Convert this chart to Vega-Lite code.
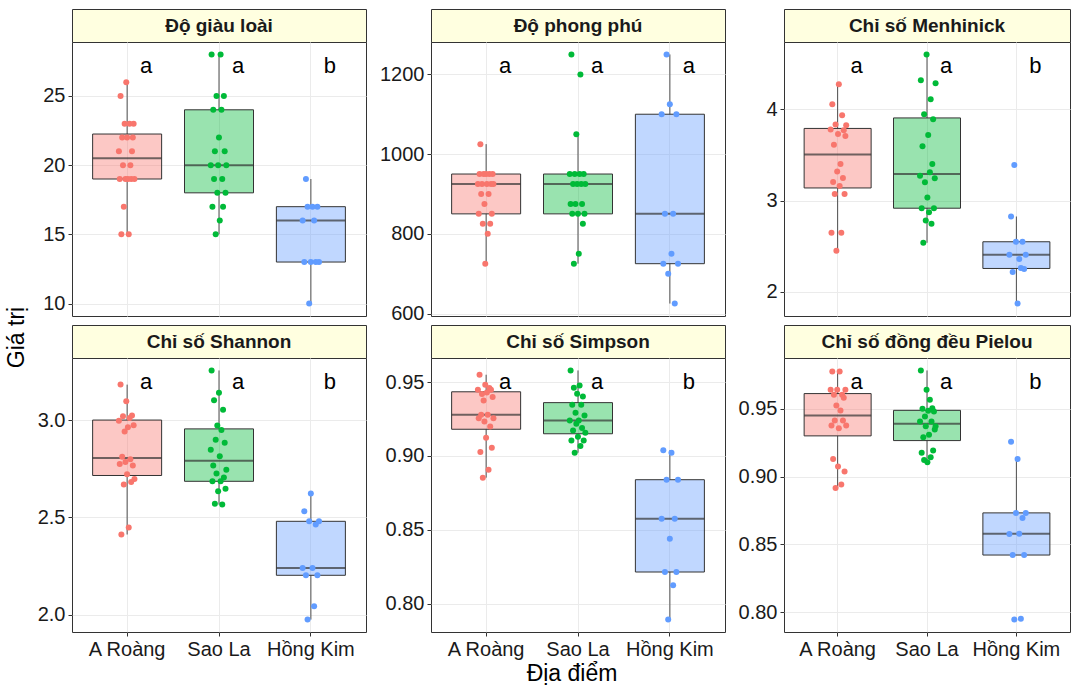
{
"$schema": "https://vega.github.io/schema/vega-lite/v6.json",
"background": "white",
"padding": {"left": 0, "top": 8, "right": 0, "bottom": 0},
"config": {
 "font": "Liberation Sans",
 "view": {"stroke": null},
 "axis": {"gridColor": "#EBEBEB", "gridWidth": 1, "domain": false, "tickColor": "#333333", "tickSize": 4, "labelFontSize": 20, "labelColor": "#1A1A1A", "labelPadding": 3, "labelFont": "Liberation Sans"}
},
"datasets": {
"d": [
{"index":"Độ giàu loài","site":"A Roàng","plot":1,"value":21,"letter":"a"},
{"index":"Độ giàu loài","site":"A Roàng","plot":2,"value":19,"letter":"a"},
{"index":"Độ giàu loài","site":"A Roàng","plot":3,"value":25,"letter":"a"},
{"index":"Độ giàu loài","site":"A Roàng","plot":4,"value":15,"letter":"a"},
{"index":"Độ giàu loài","site":"A Roàng","plot":5,"value":22,"letter":"a"},
{"index":"Độ giàu loài","site":"A Roàng","plot":6,"value":20,"letter":"a"},
{"index":"Độ giàu loài","site":"A Roàng","plot":7,"value":17,"letter":"a"},
{"index":"Độ giàu loài","site":"A Roàng","plot":8,"value":23,"letter":"a"},
{"index":"Độ giàu loài","site":"A Roàng","plot":9,"value":19,"letter":"a"},
{"index":"Độ giàu loài","site":"A Roàng","plot":10,"value":26,"letter":"a"},
{"index":"Độ giàu loài","site":"A Roàng","plot":11,"value":22,"letter":"a"},
{"index":"Độ giàu loài","site":"A Roàng","plot":12,"value":19,"letter":"a"},
{"index":"Độ giàu loài","site":"A Roàng","plot":13,"value":15,"letter":"a"},
{"index":"Độ giàu loài","site":"A Roàng","plot":14,"value":23,"letter":"a"},
{"index":"Độ giàu loài","site":"A Roàng","plot":15,"value":20,"letter":"a"},
{"index":"Độ giàu loài","site":"A Roàng","plot":16,"value":19,"letter":"a"},
{"index":"Độ giàu loài","site":"A Roàng","plot":17,"value":21,"letter":"a"},
{"index":"Độ giàu loài","site":"A Roàng","plot":18,"value":22,"letter":"a"},
{"index":"Độ giàu loài","site":"A Roàng","plot":19,"value":23,"letter":"a"},
{"index":"Độ giàu loài","site":"A Roàng","plot":20,"value":19,"letter":"a"},
{"index":"Độ giàu loài","site":"Sao La","plot":1,"value":20,"letter":"a"},
{"index":"Độ giàu loài","site":"Sao La","plot":2,"value":28,"letter":"a"},
{"index":"Độ giàu loài","site":"Sao La","plot":3,"value":17,"letter":"a"},
{"index":"Độ giàu loài","site":"Sao La","plot":4,"value":24,"letter":"a"},
{"index":"Độ giàu loài","site":"Sao La","plot":5,"value":19,"letter":"a"},
{"index":"Độ giàu loài","site":"Sao La","plot":6,"value":21,"letter":"a"},
{"index":"Độ giàu loài","site":"Sao La","plot":7,"value":15,"letter":"a"},
{"index":"Độ giàu loài","site":"Sao La","plot":8,"value":25,"letter":"a"},
{"index":"Độ giàu loài","site":"Sao La","plot":9,"value":18,"letter":"a"},
{"index":"Độ giàu loài","site":"Sao La","plot":10,"value":20,"letter":"a"},
{"index":"Độ giàu loài","site":"Sao La","plot":11,"value":22,"letter":"a"},
{"index":"Độ giàu loài","site":"Sao La","plot":12,"value":16,"letter":"a"},
{"index":"Độ giàu loài","site":"Sao La","plot":13,"value":28,"letter":"a"},
{"index":"Độ giàu loài","site":"Sao La","plot":14,"value":24,"letter":"a"},
{"index":"Độ giàu loài","site":"Sao La","plot":15,"value":19,"letter":"a"},
{"index":"Độ giàu loài","site":"Sao La","plot":16,"value":17,"letter":"a"},
{"index":"Độ giàu loài","site":"Sao La","plot":17,"value":25,"letter":"a"},
{"index":"Độ giàu loài","site":"Sao La","plot":18,"value":21,"letter":"a"},
{"index":"Độ giàu loài","site":"Sao La","plot":19,"value":18,"letter":"a"},
{"index":"Độ giàu loài","site":"Sao La","plot":20,"value":20,"letter":"a"},
{"index":"Độ giàu loài","site":"Hồng Kim","plot":1,"value":16,"letter":"b"},
{"index":"Độ giàu loài","site":"Hồng Kim","plot":3,"value":13,"letter":"b"},
{"index":"Độ giàu loài","site":"Hồng Kim","plot":5,"value":19,"letter":"b"},
{"index":"Độ giàu loài","site":"Hồng Kim","plot":7,"value":17,"letter":"b"},
{"index":"Độ giàu loài","site":"Hồng Kim","plot":9,"value":10,"letter":"b"},
{"index":"Độ giàu loài","site":"Hồng Kim","plot":11,"value":13,"letter":"b"},
{"index":"Độ giàu loài","site":"Hồng Kim","plot":13,"value":17,"letter":"b"},
{"index":"Độ giàu loài","site":"Hồng Kim","plot":15,"value":16,"letter":"b"},
{"index":"Độ giàu loài","site":"Hồng Kim","plot":17,"value":13,"letter":"b"},
{"index":"Độ giàu loài","site":"Hồng Kim","plot":19,"value":17,"letter":"b"},
{"index":"Độ giàu loài","site":"Hồng Kim","plot":21,"value":13,"letter":"b"},
{"index":"Độ phong phú","site":"A Roàng","plot":1,"value":925,"letter":"a"},
{"index":"Độ phong phú","site":"A Roàng","plot":2,"value":850,"letter":"a"},
{"index":"Độ phong phú","site":"A Roàng","plot":3,"value":950,"letter":"a"},
{"index":"Độ phong phú","site":"A Roàng","plot":4,"value":1025,"letter":"a"},
{"index":"Độ phong phú","site":"A Roàng","plot":5,"value":900,"letter":"a"},
{"index":"Độ phong phú","site":"A Roàng","plot":6,"value":925,"letter":"a"},
{"index":"Độ phong phú","site":"A Roàng","plot":7,"value":825,"letter":"a"},
{"index":"Độ phong phú","site":"A Roàng","plot":8,"value":950,"letter":"a"},
{"index":"Độ phong phú","site":"A Roàng","plot":9,"value":875,"letter":"a"},
{"index":"Độ phong phú","site":"A Roàng","plot":10,"value":725,"letter":"a"},
{"index":"Độ phong phú","site":"A Roàng","plot":11,"value":950,"letter":"a"},
{"index":"Độ phong phú","site":"A Roàng","plot":12,"value":925,"letter":"a"},
{"index":"Độ phong phú","site":"A Roàng","plot":13,"value":800,"letter":"a"},
{"index":"Độ phong phú","site":"A Roàng","plot":14,"value":900,"letter":"a"},
{"index":"Độ phong phú","site":"A Roàng","plot":15,"value":950,"letter":"a"},
{"index":"Độ phong phú","site":"A Roàng","plot":16,"value":825,"letter":"a"},
{"index":"Độ phong phú","site":"A Roàng","plot":17,"value":925,"letter":"a"},
{"index":"Độ phong phú","site":"A Roàng","plot":18,"value":850,"letter":"a"},
{"index":"Độ phong phú","site":"A Roàng","plot":19,"value":950,"letter":"a"},
{"index":"Độ phong phú","site":"A Roàng","plot":20,"value":925,"letter":"a"},
{"index":"Độ phong phú","site":"Sao La","plot":1,"value":950,"letter":"a"},
{"index":"Độ phong phú","site":"Sao La","plot":2,"value":875,"letter":"a"},
{"index":"Độ phong phú","site":"Sao La","plot":3,"value":1250,"letter":"a"},
{"index":"Độ phong phú","site":"Sao La","plot":4,"value":850,"letter":"a"},
{"index":"Độ phong phú","site":"Sao La","plot":5,"value":925,"letter":"a"},
{"index":"Độ phong phú","site":"Sao La","plot":6,"value":725,"letter":"a"},
{"index":"Độ phong phú","site":"Sao La","plot":7,"value":950,"letter":"a"},
{"index":"Độ phong phú","site":"Sao La","plot":8,"value":875,"letter":"a"},
{"index":"Độ phong phú","site":"Sao La","plot":9,"value":1050,"letter":"a"},
{"index":"Độ phong phú","site":"Sao La","plot":10,"value":925,"letter":"a"},
{"index":"Độ phong phú","site":"Sao La","plot":11,"value":850,"letter":"a"},
{"index":"Độ phong phú","site":"Sao La","plot":12,"value":750,"letter":"a"},
{"index":"Độ phong phú","site":"Sao La","plot":13,"value":950,"letter":"a"},
{"index":"Độ phong phú","site":"Sao La","plot":14,"value":1200,"letter":"a"},
{"index":"Độ phong phú","site":"Sao La","plot":15,"value":925,"letter":"a"},
{"index":"Độ phong phú","site":"Sao La","plot":16,"value":875,"letter":"a"},
{"index":"Độ phong phú","site":"Sao La","plot":17,"value":825,"letter":"a"},
{"index":"Độ phong phú","site":"Sao La","plot":18,"value":950,"letter":"a"},
{"index":"Độ phong phú","site":"Sao La","plot":19,"value":850,"letter":"a"},
{"index":"Độ phong phú","site":"Sao La","plot":20,"value":925,"letter":"a"},
{"index":"Độ phong phú","site":"Hồng Kim","plot":1,"value":1100,"letter":"a"},
{"index":"Độ phong phú","site":"Hồng Kim","plot":3,"value":725,"letter":"a"},
{"index":"Độ phong phú","site":"Hồng Kim","plot":5,"value":850,"letter":"a"},
{"index":"Độ phong phú","site":"Hồng Kim","plot":7,"value":1250,"letter":"a"},
{"index":"Độ phong phú","site":"Hồng Kim","plot":9,"value":700,"letter":"a"},
{"index":"Độ phong phú","site":"Hồng Kim","plot":11,"value":1125,"letter":"a"},
{"index":"Độ phong phú","site":"Hồng Kim","plot":13,"value":750,"letter":"a"},
{"index":"Độ phong phú","site":"Hồng Kim","plot":15,"value":850,"letter":"a"},
{"index":"Độ phong phú","site":"Hồng Kim","plot":17,"value":625,"letter":"a"},
{"index":"Độ phong phú","site":"Hồng Kim","plot":19,"value":1100,"letter":"a"},
{"index":"Độ phong phú","site":"Hồng Kim","plot":21,"value":725,"letter":"a"},
{"index":"Chỉ số Menhinick","site":"A Roàng","plot":1,"value":3.78,"letter":"a"},
{"index":"Chỉ số Menhinick","site":"A Roàng","plot":2,"value":2.647,"letter":"a"},
{"index":"Chỉ số Menhinick","site":"A Roàng","plot":3,"value":4.056,"letter":"a"},
{"index":"Chỉ số Menhinick","site":"A Roàng","plot":4,"value":3.204,"letter":"a"},
{"index":"Chỉ số Menhinick","site":"A Roàng","plot":5,"value":3.612,"letter":"a"},
{"index":"Chỉ số Menhinick","site":"A Roàng","plot":6,"value":3.073,"letter":"a"},
{"index":"Chỉ số Menhinick","site":"A Roàng","plot":7,"value":3.835,"letter":"a"},
{"index":"Chỉ số Menhinick","site":"A Roàng","plot":8,"value":2.45,"letter":"a"},
{"index":"Chỉ số Menhinick","site":"A Roàng","plot":9,"value":3.32,"letter":"a"},
{"index":"Chỉ số Menhinick","site":"A Roàng","plot":10,"value":3.729,"letter":"a"},
{"index":"Chỉ số Menhinick","site":"A Roàng","plot":11,"value":4.275,"letter":"a"},
{"index":"Chỉ số Menhinick","site":"A Roàng","plot":12,"value":3.16,"letter":"a"},
{"index":"Chỉ số Menhinick","site":"A Roàng","plot":13,"value":3.401,"letter":"a"},
{"index":"Chỉ số Menhinick","site":"A Roàng","plot":14,"value":2.647,"letter":"a"},
{"index":"Chỉ số Menhinick","site":"A Roàng","plot":15,"value":3.936,"letter":"a"},
{"index":"Chỉ số Menhinick","site":"A Roàng","plot":16,"value":3.248,"letter":"a"},
{"index":"Chỉ số Menhinick","site":"A Roàng","plot":17,"value":3.772,"letter":"a"},
{"index":"Chỉ số Menhinick","site":"A Roàng","plot":18,"value":3.073,"letter":"a"},
{"index":"Chỉ số Menhinick","site":"A Roàng","plot":19,"value":3.707,"letter":"a"},
{"index":"Chỉ số Menhinick","site":"A Roàng","plot":20,"value":3.825,"letter":"a"},
{"index":"Chỉ số Menhinick","site":"Sao La","plot":1,"value":3.273,"letter":"a"},
{"index":"Chỉ số Menhinick","site":"Sao La","plot":2,"value":4.319,"letter":"a"},
{"index":"Chỉ số Menhinick","site":"Sao La","plot":3,"value":2.916,"letter":"a"},
{"index":"Chỉ số Menhinick","site":"Sao La","plot":4,"value":3.597,"letter":"a"},
{"index":"Chỉ số Menhinick","site":"Sao La","plot":5,"value":2.537,"letter":"a"},
{"index":"Chỉ số Menhinick","site":"Sao La","plot":6,"value":3.947,"letter":"a"},
{"index":"Chỉ số Menhinick","site":"Sao La","plot":7,"value":3.2,"letter":"a"},
{"index":"Chỉ số Menhinick","site":"Sao La","plot":8,"value":2.78,"letter":"a"},
{"index":"Chỉ số Menhinick","site":"Sao La","plot":9,"value":4.603,"letter":"a"},
{"index":"Chỉ số Menhinick","site":"Sao La","plot":10,"value":3.033,"letter":"a"},
{"index":"Chỉ số Menhinick","site":"Sao La","plot":11,"value":3.718,"letter":"a"},
{"index":"Chỉ số Menhinick","site":"Sao La","plot":12,"value":2.872,"letter":"a"},
{"index":"Chỉ số Menhinick","site":"Sao La","plot":13,"value":3.31,"letter":"a"},
{"index":"Chỉ số Menhinick","site":"Sao La","plot":14,"value":4.111,"letter":"a"},
{"index":"Chỉ số Menhinick","site":"Sao La","plot":15,"value":2.745,"letter":"a"},
{"index":"Chỉ số Menhinick","site":"Sao La","plot":16,"value":3.401,"letter":"a"},
{"index":"Chỉ số Menhinick","site":"Sao La","plot":17,"value":3.893,"letter":"a"},
{"index":"Chỉ số Menhinick","site":"Sao La","plot":18,"value":2.916,"letter":"a"},
{"index":"Chỉ số Menhinick","site":"Sao La","plot":19,"value":3.244,"letter":"a"},
{"index":"Chỉ số Menhinick","site":"Sao La","plot":20,"value":4.286,"letter":"a"},
{"index":"Chỉ số Menhinick","site":"Hồng Kim","plot":1,"value":2.406,"letter":"b"},
{"index":"Chỉ số Menhinick","site":"Hồng Kim","plot":3,"value":2.825,"letter":"b"},
{"index":"Chỉ số Menhinick","site":"Hồng Kim","plot":5,"value":2.217,"letter":"b"},
{"index":"Chỉ số Menhinick","site":"Hồng Kim","plot":7,"value":3.39,"letter":"b"},
{"index":"Chỉ số Menhinick","site":"Hồng Kim","plot":9,"value":2.548,"letter":"b"},
{"index":"Chỉ số Menhinick","site":"Hồng Kim","plot":11,"value":1.87,"letter":"b"},
{"index":"Chỉ số Menhinick","site":"Hồng Kim","plot":13,"value":2.36,"letter":"b"},
{"index":"Chỉ số Menhinick","site":"Hồng Kim","plot":15,"value":2.26,"letter":"b"},
{"index":"Chỉ số Menhinick","site":"Hồng Kim","plot":17,"value":2.548,"letter":"b"},
{"index":"Chỉ số Menhinick","site":"Hồng Kim","plot":19,"value":2.25,"letter":"b"},
{"index":"Chỉ số Menhinick","site":"Hồng Kim","plot":21,"value":2.406,"letter":"b"},
{"index":"Chỉ số Shannon","site":"A Roàng","plot":1,"value":2.998,"letter":"a"},
{"index":"Chỉ số Shannon","site":"A Roàng","plot":2,"value":2.775,"letter":"a"},
{"index":"Chỉ số Shannon","site":"A Roàng","plot":3,"value":3.184,"letter":"a"},
{"index":"Chỉ số Shannon","site":"A Roàng","plot":4,"value":2.412,"letter":"a"},
{"index":"Chỉ số Shannon","site":"A Roàng","plot":5,"value":2.812,"letter":"a"},
{"index":"Chỉ số Shannon","site":"A Roàng","plot":6,"value":3.021,"letter":"a"},
{"index":"Chỉ số Shannon","site":"A Roàng","plot":7,"value":2.669,"letter":"a"},
{"index":"Chỉ số Shannon","site":"A Roàng","plot":8,"value":2.943,"letter":"a"},
{"index":"Chỉ số Shannon","site":"A Roàng","plot":9,"value":2.786,"letter":"a"},
{"index":"Chỉ số Shannon","site":"A Roàng","plot":10,"value":3.098,"letter":"a"},
{"index":"Chỉ số Shannon","site":"A Roàng","plot":11,"value":2.722,"letter":"a"},
{"index":"Chỉ số Shannon","site":"A Roàng","plot":12,"value":2.965,"letter":"a"},
{"index":"Chỉ số Shannon","site":"A Roàng","plot":13,"value":2.448,"letter":"a"},
{"index":"Chỉ số Shannon","site":"A Roàng","plot":14,"value":3.012,"letter":"a"},
{"index":"Chỉ số Shannon","site":"A Roàng","plot":15,"value":2.8,"letter":"a"},
{"index":"Chỉ số Shannon","site":"A Roàng","plot":16,"value":2.682,"letter":"a"},
{"index":"Chỉ số Shannon","site":"A Roàng","plot":17,"value":3.025,"letter":"a"},
{"index":"Chỉ số Shannon","site":"A Roàng","plot":18,"value":2.768,"letter":"a"},
{"index":"Chỉ số Shannon","site":"A Roàng","plot":19,"value":2.975,"letter":"a"},
{"index":"Chỉ số Shannon","site":"A Roàng","plot":20,"value":2.698,"letter":"a"},
{"index":"Chỉ số Shannon","site":"Sao La","plot":1,"value":2.849,"letter":"a"},
{"index":"Chỉ số Shannon","site":"Sao La","plot":2,"value":3.257,"letter":"a"},
{"index":"Chỉ số Shannon","site":"Sao La","plot":3,"value":2.686,"letter":"a"},
{"index":"Chỉ số Shannon","site":"Sao La","plot":4,"value":2.768,"letter":"a"},
{"index":"Chỉ số Shannon","site":"Sao La","plot":5,"value":3.103,"letter":"a"},
{"index":"Chỉ số Shannon","site":"Sao La","plot":6,"value":2.571,"letter":"a"},
{"index":"Chỉ số Shannon","site":"Sao La","plot":7,"value":2.9,"letter":"a"},
{"index":"Chỉ số Shannon","site":"Sao La","plot":8,"value":2.726,"letter":"a"},
{"index":"Chỉ số Shannon","site":"Sao La","plot":9,"value":2.974,"letter":"a"},
{"index":"Chỉ số Shannon","site":"Sao La","plot":10,"value":2.635,"letter":"a"},
{"index":"Chỉ số Shannon","site":"Sao La","plot":11,"value":3.142,"letter":"a"},
{"index":"Chỉ số Shannon","site":"Sao La","plot":12,"value":2.815,"letter":"a"},
{"index":"Chỉ số Shannon","site":"Sao La","plot":13,"value":2.686,"letter":"a"},
{"index":"Chỉ số Shannon","site":"Sao La","plot":14,"value":2.95,"letter":"a"},
{"index":"Chỉ số Shannon","site":"Sao La","plot":15,"value":2.566,"letter":"a"},
{"index":"Chỉ số Shannon","site":"Sao La","plot":16,"value":3.055,"letter":"a"},
{"index":"Chỉ số Shannon","site":"Sao La","plot":17,"value":2.705,"letter":"a"},
{"index":"Chỉ số Shannon","site":"Sao La","plot":18,"value":2.885,"letter":"a"},
{"index":"Chỉ số Shannon","site":"Sao La","plot":19,"value":2.648,"letter":"a"},
{"index":"Chỉ số Shannon","site":"Sao La","plot":20,"value":2.746,"letter":"a"},
{"index":"Chỉ số Shannon","site":"Hồng Kim","plot":1,"value":2.24,"letter":"b"},
{"index":"Chỉ số Shannon","site":"Hồng Kim","plot":3,"value":2.532,"letter":"b"},
{"index":"Chỉ số Shannon","site":"Hồng Kim","plot":5,"value":2.202,"letter":"b"},
{"index":"Chỉ số Shannon","site":"Hồng Kim","plot":7,"value":1.974,"letter":"b"},
{"index":"Chỉ số Shannon","site":"Hồng Kim","plot":9,"value":2.48,"letter":"b"},
{"index":"Chỉ số Shannon","site":"Hồng Kim","plot":11,"value":2.623,"letter":"b"},
{"index":"Chỉ số Shannon","site":"Hồng Kim","plot":13,"value":2.24,"letter":"b"},
{"index":"Chỉ số Shannon","site":"Hồng Kim","plot":15,"value":2.043,"letter":"b"},
{"index":"Chỉ số Shannon","site":"Hồng Kim","plot":17,"value":2.463,"letter":"b"},
{"index":"Chỉ số Shannon","site":"Hồng Kim","plot":19,"value":2.202,"letter":"b"},
{"index":"Chỉ số Shannon","site":"Hồng Kim","plot":21,"value":2.48,"letter":"b"},
{"index":"Chỉ số Simpson","site":"A Roàng","plot":1,"value":0.9448,"letter":"a"},
{"index":"Chỉ số Simpson","site":"A Roàng","plot":2,"value":0.9256,"letter":"a"},
{"index":"Chỉ số Simpson","site":"A Roàng","plot":3,"value":0.955,"letter":"a"},
{"index":"Chỉ số Simpson","site":"A Roàng","plot":4,"value":0.9026,"letter":"a"},
{"index":"Chỉ số Simpson","site":"A Roàng","plot":5,"value":0.9279,"letter":"a"},
{"index":"Chỉ số Simpson","site":"A Roàng","plot":6,"value":0.942,"letter":"a"},
{"index":"Chỉ số Simpson","site":"A Roàng","plot":7,"value":0.8853,"letter":"a"},
{"index":"Chỉ số Simpson","site":"A Roàng","plot":8,"value":0.9376,"letter":"a"},
{"index":"Chỉ số Simpson","site":"A Roàng","plot":9,"value":0.9234,"letter":"a"},
{"index":"Chỉ số Simpson","site":"A Roàng","plot":10,"value":0.9482,"letter":"a"},
{"index":"Chỉ số Simpson","site":"A Roàng","plot":11,"value":0.9123,"letter":"a"},
{"index":"Chỉ số Simpson","site":"A Roàng","plot":12,"value":0.943,"letter":"a"},
{"index":"Chỉ số Simpson","site":"A Roàng","plot":13,"value":0.9279,"letter":"a"},
{"index":"Chỉ số Simpson","site":"A Roàng","plot":14,"value":0.8907,"letter":"a"},
{"index":"Chỉ số Simpson","site":"A Roàng","plot":15,"value":0.946,"letter":"a"},
{"index":"Chỉ số Simpson","site":"A Roàng","plot":16,"value":0.92,"letter":"a"},
{"index":"Chỉ số Simpson","site":"A Roàng","plot":17,"value":0.9448,"letter":"a"},
{"index":"Chỉ số Simpson","site":"A Roàng","plot":18,"value":0.9056,"letter":"a"},
{"index":"Chỉ số Simpson","site":"A Roàng","plot":19,"value":0.94,"letter":"a"},
{"index":"Chỉ số Simpson","site":"A Roàng","plot":20,"value":0.9256,"letter":"a"},
{"index":"Chỉ số Simpson","site":"Sao La","plot":1,"value":0.924,"letter":"a"},
{"index":"Chỉ số Simpson","site":"Sao La","plot":2,"value":0.9579,"letter":"a"},
{"index":"Chỉ số Simpson","site":"Sao La","plot":3,"value":0.9105,"letter":"a"},
{"index":"Chỉ số Simpson","site":"Sao La","plot":4,"value":0.9347,"letter":"a"},
{"index":"Chỉ số Simpson","site":"Sao La","plot":5,"value":0.9173,"letter":"a"},
{"index":"Chỉ số Simpson","site":"Sao La","plot":6,"value":0.9462,"letter":"a"},
{"index":"Chỉ số Simpson","site":"Sao La","plot":7,"value":0.9022,"letter":"a"},
{"index":"Chỉ số Simpson","site":"Sao La","plot":8,"value":0.9293,"letter":"a"},
{"index":"Chỉ số Simpson","site":"Sao La","plot":9,"value":0.9218,"letter":"a"},
{"index":"Chỉ số Simpson","site":"Sao La","plot":10,"value":0.9421,"letter":"a"},
{"index":"Chỉ số Simpson","site":"Sao La","plot":11,"value":0.913,"letter":"a"},
{"index":"Chỉ số Simpson","site":"Sao La","plot":12,"value":0.924,"letter":"a"},
{"index":"Chỉ số Simpson","site":"Sao La","plot":13,"value":0.9477,"letter":"a"},
{"index":"Chỉ số Simpson","site":"Sao La","plot":14,"value":0.9067,"letter":"a"},
{"index":"Chỉ số Simpson","site":"Sao La","plot":15,"value":0.9347,"letter":"a"},
{"index":"Chỉ số Simpson","site":"Sao La","plot":16,"value":0.9189,"letter":"a"},
{"index":"Chỉ số Simpson","site":"Sao La","plot":17,"value":0.9403,"letter":"a"},
{"index":"Chỉ số Simpson","site":"Sao La","plot":18,"value":0.9105,"letter":"a"},
{"index":"Chỉ số Simpson","site":"Sao La","plot":19,"value":0.9274,"letter":"a"},
{"index":"Chỉ số Simpson","site":"Sao La","plot":20,"value":0.9157,"letter":"a"},
{"index":"Chỉ số Simpson","site":"Hồng Kim","plot":1,"value":0.8575,"letter":"b"},
{"index":"Chỉ số Simpson","site":"Hồng Kim","plot":3,"value":0.9038,"letter":"b"},
{"index":"Chỉ số Simpson","site":"Hồng Kim","plot":5,"value":0.8214,"letter":"b"},
{"index":"Chỉ số Simpson","site":"Hồng Kim","plot":7,"value":0.8839,"letter":"b"},
{"index":"Chỉ số Simpson","site":"Hồng Kim","plot":9,"value":0.7892,"letter":"b"},
{"index":"Chỉ số Simpson","site":"Hồng Kim","plot":11,"value":0.844,"letter":"b"},
{"index":"Chỉ số Simpson","site":"Hồng Kim","plot":13,"value":0.9022,"letter":"b"},
{"index":"Chỉ số Simpson","site":"Hồng Kim","plot":15,"value":0.8124,"letter":"b"},
{"index":"Chỉ số Simpson","site":"Hồng Kim","plot":17,"value":0.8575,"letter":"b"},
{"index":"Chỉ số Simpson","site":"Hồng Kim","plot":19,"value":0.8214,"letter":"b"},
{"index":"Chỉ số Simpson","site":"Hồng Kim","plot":21,"value":0.8839,"letter":"b"},
{"index":"Chỉ số đồng đều Pielou","site":"A Roàng","plot":1,"value":0.964,"letter":"a"},
{"index":"Chỉ số đồng đều Pielou","site":"A Roàng","plot":2,"value":0.9377,"letter":"a"},
{"index":"Chỉ số đồng đều Pielou","site":"A Roàng","plot":3,"value":0.9776,"letter":"a"},
{"index":"Chỉ số đồng đều Pielou","site":"A Roàng","plot":4,"value":0.913,"letter":"a"},
{"index":"Chỉ số đồng đều Pielou","site":"A Roàng","plot":5,"value":0.9603,"letter":"a"},
{"index":"Chỉ số đồng đều Pielou","site":"A Roàng","plot":6,"value":0.9414,"letter":"a"},
{"index":"Chỉ số đồng đều Pielou","site":"A Roàng","plot":7,"value":0.8916,"letter":"a"},
{"index":"Chỉ số đồng đều Pielou","site":"A Roàng","plot":8,"value":0.9525,"letter":"a"},
{"index":"Chỉ số đồng đều Pielou","site":"A Roàng","plot":9,"value":0.964,"letter":"a"},
{"index":"Chỉ số đồng đều Pielou","site":"A Roàng","plot":10,"value":0.9074,"letter":"a"},
{"index":"Chỉ số đồng đều Pielou","site":"A Roàng","plot":11,"value":0.9357,"letter":"a"},
{"index":"Chỉ số đồng đều Pielou","site":"A Roàng","plot":12,"value":0.9776,"letter":"a"},
{"index":"Chỉ số đồng đều Pielou","site":"A Roàng","plot":13,"value":0.9488,"letter":"a"},
{"index":"Chỉ số đồng đều Pielou","site":"A Roàng","plot":14,"value":0.8941,"letter":"a"},
{"index":"Chỉ số đồng đều Pielou","site":"A Roàng","plot":15,"value":0.9603,"letter":"a"},
{"index":"Chỉ số đồng đều Pielou","site":"A Roàng","plot":16,"value":0.9414,"letter":"a"},
{"index":"Chỉ số đồng đều Pielou","site":"A Roàng","plot":17,"value":0.9581,"letter":"a"},
{"index":"Chỉ số đồng đều Pielou","site":"A Roàng","plot":18,"value":0.9037,"letter":"a"},
{"index":"Chỉ số đồng đều Pielou","site":"A Roàng","plot":19,"value":0.964,"letter":"a"},
{"index":"Chỉ số đồng đều Pielou","site":"A Roàng","plot":20,"value":0.9377,"letter":"a"},
{"index":"Chỉ số đồng đều Pielou","site":"Sao La","plot":1,"value":0.9406,"letter":"a"},
{"index":"Chỉ số đồng đều Pielou","site":"Sao La","plot":2,"value":0.9783,"letter":"a"},
{"index":"Chỉ số đồng đều Pielou","site":"Sao La","plot":3,"value":0.9175,"letter":"a"},
{"index":"Chỉ số đồng đều Pielou","site":"Sao La","plot":4,"value":0.95,"letter":"a"},
{"index":"Chỉ số đồng đều Pielou","site":"Sao La","plot":5,"value":0.929,"letter":"a"},
{"index":"Chỉ số đồng đều Pielou","site":"Sao La","plot":6,"value":0.9123,"letter":"a"},
{"index":"Chỉ số đồng đều Pielou","site":"Sao La","plot":7,"value":0.9443,"letter":"a"},
{"index":"Chỉ số đồng đều Pielou","site":"Sao La","plot":8,"value":0.9372,"letter":"a"},
{"index":"Chỉ số đồng đều Pielou","site":"Sao La","plot":9,"value":0.964,"letter":"a"},
{"index":"Chỉ số đồng đều Pielou","site":"Sao La","plot":10,"value":0.9106,"letter":"a"},
{"index":"Chỉ số đồng đều Pielou","site":"Sao La","plot":11,"value":0.9485,"letter":"a"},
{"index":"Chỉ số đồng đều Pielou","site":"Sao La","plot":12,"value":0.9308,"letter":"a"},
{"index":"Chỉ số đồng đều Pielou","site":"Sao La","plot":13,"value":0.9567,"letter":"a"},
{"index":"Chỉ số đồng đều Pielou","site":"Sao La","plot":14,"value":0.9143,"letter":"a"},
{"index":"Chỉ số đồng đều Pielou","site":"Sao La","plot":15,"value":0.9406,"letter":"a"},
{"index":"Chỉ số đồng đều Pielou","site":"Sao La","plot":16,"value":0.9505,"letter":"a"},
{"index":"Chỉ số đồng đều Pielou","site":"Sao La","plot":17,"value":0.9192,"letter":"a"},
{"index":"Chỉ số đồng đều Pielou","site":"Sao La","plot":18,"value":0.948,"letter":"a"},
{"index":"Chỉ số đồng đều Pielou","site":"Sao La","plot":19,"value":0.9347,"letter":"a"},
{"index":"Chỉ số đồng đều Pielou","site":"Sao La","plot":20,"value":0.9372,"letter":"a"},
{"index":"Chỉ số đồng đều Pielou","site":"Hồng Kim","plot":1,"value":0.8576,"letter":"b"},
{"index":"Chỉ số đồng đều Pielou","site":"Hồng Kim","plot":3,"value":0.9256,"letter":"b"},
{"index":"Chỉ số đồng đều Pielou","site":"Hồng Kim","plot":5,"value":0.8421,"letter":"b"},
{"index":"Chỉ số đồng đều Pielou","site":"Hồng Kim","plot":7,"value":0.7945,"letter":"b"},
{"index":"Chỉ số đồng đều Pielou","site":"Hồng Kim","plot":9,"value":0.8732,"letter":"b"},
{"index":"Chỉ số đồng đều Pielou","site":"Hồng Kim","plot":11,"value":0.913,"letter":"b"},
{"index":"Chỉ số đồng đều Pielou","site":"Hồng Kim","plot":13,"value":0.8579,"letter":"b"},
{"index":"Chỉ số đồng đều Pielou","site":"Hồng Kim","plot":15,"value":0.795,"letter":"b"},
{"index":"Chỉ số đồng đều Pielou","site":"Hồng Kim","plot":17,"value":0.8695,"letter":"b"},
{"index":"Chỉ số đồng đều Pielou","site":"Hồng Kim","plot":19,"value":0.8421,"letter":"b"},
{"index":"Chỉ số đồng đều Pielou","site":"Hồng Kim","plot":21,"value":0.8732,"letter":"b"}
]
},
"hconcat": [
 {
  "width": 34, "height": 657,
  "data": {"values": [{"label": "Giá trị"}]},
  "mark": {"type": "text", "angle": 270, "fontSize": 23, "color": "#000000", "font": "Liberation Sans"},
  "encoding": {"text": {"field": "label"}}
 },
 {
  "spacing": 0,
  "vconcat": [
   {
    "columns": 3,
    "spacing": {"row": -2, "column": 7},
    "align": "each",
    "concat": [
     {"spacing": 0, "bounds": "flush", "vconcat": [
      {"data": {"name": "d"}, "transform": [{"filter": {"field": "index", "equal": "Độ giàu loài"}}, {"aggregate": [{"op": "count", "as": "n"}], "groupby": ["index"]}],
       "width": 294, "height": 33, "view": {"fill": "#FFFFE0", "stroke": "#333333", "strokeWidth": 1},
       "mark": {"type": "text", "fontWeight": "bold", "fontSize": 19, "color": "#1A1A1A", "font": "Liberation Sans"},
       "encoding": {"text": {"field": "index"}}},
      {"data": {"name": "d"}, "transform": [{"filter": {"field": "index", "equal": "Độ giàu loài"}}],
       "width": 294, "height": 274, "view": {"fill": "white", "stroke": "#333333", "strokeWidth": 1},
       "encoding": {"x": {"field": "site", "type": "nominal", "sort": ["A Roàng", "Sao La", "Hồng Kim"], "title": null, "scale": {"paddingInner": 0, "paddingOuter": 0.1}, "axis": {"labels": false, "ticks": false, "grid": true, "bandPosition": 0.5, "minExtent": 0, "maxExtent": 0}}},
       "layer": [
        {"mark": {"type": "boxplot", "extent": 1.5, "size": 69, "outliers": false, "box": {"stroke": "#333333", "strokeWidth": 1, "fillOpacity": 0.4}, "median": {"color": "#333333", "thickness": 2}, "rule": {"color": "#4D4D4D", "strokeWidth": 1}},
         "encoding": {"y": {"field": "value", "type": "quantitative", "title": null, "scale": {"zero": false, "nice": false, "padding": 12.45}, "axis": {"tickCount": 4, "grid": true, "minExtent": 37, "maxExtent": 37}},
          "color": {"field": "site", "type": "nominal", "scale": {"domain": ["A Roàng", "Sao La", "Hồng Kim"], "range": ["#F8766D", "#00BA38", "#619CFF"]}, "legend": null}}},
        {"mark": {"type": "circle", "size": 36, "opacity": 1},
         "encoding": {"xOffset": {"field": "plot", "type": "quantitative", "scale": {"domain": [0, 22], "range": [36.9, 54.9]}},
          "y": {"field": "value", "type": "quantitative", "title": null},
          "color": {"field": "site", "type": "nominal", "legend": null}}},
        {"transform": [{"joinaggregate": [{"op": "max", "field": "value", "as": "top"}]}, {"aggregate": [{"op": "count", "as": "n"}], "groupby": ["site", "letter", "top"]}],
         "mark": {"type": "text", "fontSize": 22, "dx": 19, "dy": 12, "baseline": "middle", "color": "#000000", "font": "Liberation Sans"},
         "encoding": {"y": {"field": "top", "type": "quantitative", "title": null}, "text": {"field": "letter"}}}
       ]}
     ]},
     {"spacing": 0, "bounds": "flush", "vconcat": [
      {"data": {"name": "d"}, "transform": [{"filter": {"field": "index", "equal": "Độ phong phú"}}, {"aggregate": [{"op": "count", "as": "n"}], "groupby": ["index"]}],
       "width": 294, "height": 33, "view": {"fill": "#FFFFE0", "stroke": "#333333", "strokeWidth": 1},
       "mark": {"type": "text", "fontWeight": "bold", "fontSize": 19, "color": "#1A1A1A", "font": "Liberation Sans"},
       "encoding": {"text": {"field": "index"}}},
      {"data": {"name": "d"}, "transform": [{"filter": {"field": "index", "equal": "Độ phong phú"}}],
       "width": 294, "height": 274, "view": {"fill": "white", "stroke": "#333333", "strokeWidth": 1},
       "encoding": {"x": {"field": "site", "type": "nominal", "sort": ["A Roàng", "Sao La", "Hồng Kim"], "title": null, "scale": {"paddingInner": 0, "paddingOuter": 0.1}, "axis": {"labels": false, "ticks": false, "grid": true, "bandPosition": 0.5, "minExtent": 0, "maxExtent": 0}}},
       "layer": [
        {"mark": {"type": "boxplot", "extent": 1.5, "size": 69, "outliers": false, "box": {"stroke": "#333333", "strokeWidth": 1, "fillOpacity": 0.4}, "median": {"color": "#333333", "thickness": 2}, "rule": {"color": "#4D4D4D", "strokeWidth": 1}},
         "encoding": {"y": {"field": "value", "type": "quantitative", "title": null, "scale": {"zero": false, "nice": false, "padding": 12.45}, "axis": {"tickCount": 4, "format": "d", "grid": true, "minExtent": 56, "maxExtent": 56}},
          "color": {"field": "site", "type": "nominal", "scale": {"domain": ["A Roàng", "Sao La", "Hồng Kim"], "range": ["#F8766D", "#00BA38", "#619CFF"]}, "legend": null}}},
        {"mark": {"type": "circle", "size": 36, "opacity": 1},
         "encoding": {"xOffset": {"field": "plot", "type": "quantitative", "scale": {"domain": [0, 22], "range": [36.9, 54.9]}},
          "y": {"field": "value", "type": "quantitative", "title": null},
          "color": {"field": "site", "type": "nominal", "legend": null}}},
        {"transform": [{"joinaggregate": [{"op": "max", "field": "value", "as": "top"}]}, {"aggregate": [{"op": "count", "as": "n"}], "groupby": ["site", "letter", "top"]}],
         "mark": {"type": "text", "fontSize": 22, "dx": 19, "dy": 12, "baseline": "middle", "color": "#000000", "font": "Liberation Sans"},
         "encoding": {"y": {"field": "top", "type": "quantitative", "title": null}, "text": {"field": "letter"}}}
       ]}
     ]},
     {"spacing": 0, "bounds": "flush", "vconcat": [
      {"data": {"name": "d"}, "transform": [{"filter": {"field": "index", "equal": "Chỉ số Menhinick"}}, {"aggregate": [{"op": "count", "as": "n"}], "groupby": ["index"]}],
       "width": 286, "height": 33, "view": {"fill": "#FFFFE0", "stroke": "#333333", "strokeWidth": 1},
       "mark": {"type": "text", "fontWeight": "bold", "fontSize": 19, "color": "#1A1A1A", "font": "Liberation Sans"},
       "encoding": {"text": {"field": "index"}}},
      {"data": {"name": "d"}, "transform": [{"filter": {"field": "index", "equal": "Chỉ số Menhinick"}}],
       "width": 286, "height": 274, "view": {"fill": "white", "stroke": "#333333", "strokeWidth": 1},
       "encoding": {"x": {"field": "site", "type": "nominal", "sort": ["A Roàng", "Sao La", "Hồng Kim"], "title": null, "scale": {"paddingInner": 0, "paddingOuter": 0.1}, "axis": {"labels": false, "ticks": false, "grid": true, "bandPosition": 0.5, "minExtent": 0, "maxExtent": 0}}},
       "layer": [
        {"mark": {"type": "boxplot", "extent": 1.5, "size": 67, "outliers": false, "box": {"stroke": "#333333", "strokeWidth": 1, "fillOpacity": 0.4}, "median": {"color": "#333333", "thickness": 2}, "rule": {"color": "#4D4D4D", "strokeWidth": 1}},
         "encoding": {"y": {"field": "value", "type": "quantitative", "title": null, "scale": {"zero": false, "nice": false, "padding": 12.45}, "axis": {"tickCount": 4, "grid": true, "minExtent": 50, "maxExtent": 50}},
          "color": {"field": "site", "type": "nominal", "scale": {"domain": ["A Roàng", "Sao La", "Hồng Kim"], "range": ["#F8766D", "#00BA38", "#619CFF"]}, "legend": null}}},
        {"mark": {"type": "circle", "size": 36, "opacity": 1},
         "encoding": {"xOffset": {"field": "plot", "type": "quantitative", "scale": {"domain": [0, 22], "range": [35.7, 53.7]}},
          "y": {"field": "value", "type": "quantitative", "title": null},
          "color": {"field": "site", "type": "nominal", "legend": null}}},
        {"transform": [{"joinaggregate": [{"op": "max", "field": "value", "as": "top"}]}, {"aggregate": [{"op": "count", "as": "n"}], "groupby": ["site", "letter", "top"]}],
         "mark": {"type": "text", "fontSize": 22, "dx": 19, "dy": 12, "baseline": "middle", "color": "#000000", "font": "Liberation Sans"},
         "encoding": {"y": {"field": "top", "type": "quantitative", "title": null}, "text": {"field": "letter"}}}
       ]}
     ]},
     {"spacing": 0, "bounds": "flush", "vconcat": [
      {"data": {"name": "d"}, "transform": [{"filter": {"field": "index", "equal": "Chỉ số Shannon"}}, {"aggregate": [{"op": "count", "as": "n"}], "groupby": ["index"]}],
       "width": 294, "height": 33, "view": {"fill": "#FFFFE0", "stroke": "#333333", "strokeWidth": 1},
       "mark": {"type": "text", "fontWeight": "bold", "fontSize": 19, "color": "#1A1A1A", "font": "Liberation Sans"},
       "encoding": {"text": {"field": "index"}}},
      {"data": {"name": "d"}, "transform": [{"filter": {"field": "index", "equal": "Chỉ số Shannon"}}],
       "width": 294, "height": 274, "view": {"fill": "white", "stroke": "#333333", "strokeWidth": 1},
       "encoding": {"x": {"field": "site", "type": "nominal", "sort": ["A Roàng", "Sao La", "Hồng Kim"], "title": null, "scale": {"paddingInner": 0, "paddingOuter": 0.1}, "axis": {"labels": true, "ticks": true, "grid": true, "bandPosition": 0.5, "labelPadding": 3, "labelAngle": 0}}},
       "layer": [
        {"mark": {"type": "boxplot", "extent": 1.5, "size": 69, "outliers": false, "box": {"stroke": "#333333", "strokeWidth": 1, "fillOpacity": 0.4}, "median": {"color": "#333333", "thickness": 2}, "rule": {"color": "#4D4D4D", "strokeWidth": 1}},
         "encoding": {"y": {"field": "value", "type": "quantitative", "title": null, "scale": {"zero": false, "nice": false, "padding": 12.45}, "axis": {"tickCount": 4, "grid": true, "minExtent": 37, "maxExtent": 37}},
          "color": {"field": "site", "type": "nominal", "scale": {"domain": ["A Roàng", "Sao La", "Hồng Kim"], "range": ["#F8766D", "#00BA38", "#619CFF"]}, "legend": null}}},
        {"mark": {"type": "circle", "size": 36, "opacity": 1},
         "encoding": {"xOffset": {"field": "plot", "type": "quantitative", "scale": {"domain": [0, 22], "range": [36.9, 54.9]}},
          "y": {"field": "value", "type": "quantitative", "title": null},
          "color": {"field": "site", "type": "nominal", "legend": null}}},
        {"transform": [{"joinaggregate": [{"op": "max", "field": "value", "as": "top"}]}, {"aggregate": [{"op": "count", "as": "n"}], "groupby": ["site", "letter", "top"]}],
         "mark": {"type": "text", "fontSize": 22, "dx": 19, "dy": 12, "baseline": "middle", "color": "#000000", "font": "Liberation Sans"},
         "encoding": {"y": {"field": "top", "type": "quantitative", "title": null}, "text": {"field": "letter"}}}
       ]}
     ]},
     {"spacing": 0, "bounds": "flush", "vconcat": [
      {"data": {"name": "d"}, "transform": [{"filter": {"field": "index", "equal": "Chỉ số Simpson"}}, {"aggregate": [{"op": "count", "as": "n"}], "groupby": ["index"]}],
       "width": 294, "height": 33, "view": {"fill": "#FFFFE0", "stroke": "#333333", "strokeWidth": 1},
       "mark": {"type": "text", "fontWeight": "bold", "fontSize": 19, "color": "#1A1A1A", "font": "Liberation Sans"},
       "encoding": {"text": {"field": "index"}}},
      {"data": {"name": "d"}, "transform": [{"filter": {"field": "index", "equal": "Chỉ số Simpson"}}],
       "width": 294, "height": 274, "view": {"fill": "white", "stroke": "#333333", "strokeWidth": 1},
       "encoding": {"x": {"field": "site", "type": "nominal", "sort": ["A Roàng", "Sao La", "Hồng Kim"], "title": null, "scale": {"paddingInner": 0, "paddingOuter": 0.1}, "axis": {"labels": true, "ticks": true, "grid": true, "bandPosition": 0.5, "labelPadding": 3, "labelAngle": 0}}},
       "layer": [
        {"mark": {"type": "boxplot", "extent": 1.5, "size": 69, "outliers": false, "box": {"stroke": "#333333", "strokeWidth": 1, "fillOpacity": 0.4}, "median": {"color": "#333333", "thickness": 2}, "rule": {"color": "#4D4D4D", "strokeWidth": 1}},
         "encoding": {"y": {"field": "value", "type": "quantitative", "title": null, "scale": {"zero": false, "nice": false, "padding": 12.45}, "axis": {"tickCount": 4, "grid": true, "minExtent": 56, "maxExtent": 56}},
          "color": {"field": "site", "type": "nominal", "scale": {"domain": ["A Roàng", "Sao La", "Hồng Kim"], "range": ["#F8766D", "#00BA38", "#619CFF"]}, "legend": null}}},
        {"mark": {"type": "circle", "size": 36, "opacity": 1},
         "encoding": {"xOffset": {"field": "plot", "type": "quantitative", "scale": {"domain": [0, 22], "range": [36.9, 54.9]}},
          "y": {"field": "value", "type": "quantitative", "title": null},
          "color": {"field": "site", "type": "nominal", "legend": null}}},
        {"transform": [{"joinaggregate": [{"op": "max", "field": "value", "as": "top"}]}, {"aggregate": [{"op": "count", "as": "n"}], "groupby": ["site", "letter", "top"]}],
         "mark": {"type": "text", "fontSize": 22, "dx": 19, "dy": 12, "baseline": "middle", "color": "#000000", "font": "Liberation Sans"},
         "encoding": {"y": {"field": "top", "type": "quantitative", "title": null}, "text": {"field": "letter"}}}
       ]}
     ]},
     {"spacing": 0, "bounds": "flush", "vconcat": [
      {"data": {"name": "d"}, "transform": [{"filter": {"field": "index", "equal": "Chỉ số đồng đều Pielou"}}, {"aggregate": [{"op": "count", "as": "n"}], "groupby": ["index"]}],
       "width": 286, "height": 33, "view": {"fill": "#FFFFE0", "stroke": "#333333", "strokeWidth": 1},
       "mark": {"type": "text", "fontWeight": "bold", "fontSize": 19, "color": "#1A1A1A", "font": "Liberation Sans"},
       "encoding": {"text": {"field": "index"}}},
      {"data": {"name": "d"}, "transform": [{"filter": {"field": "index", "equal": "Chỉ số đồng đều Pielou"}}],
       "width": 286, "height": 274, "view": {"fill": "white", "stroke": "#333333", "strokeWidth": 1},
       "encoding": {"x": {"field": "site", "type": "nominal", "sort": ["A Roàng", "Sao La", "Hồng Kim"], "title": null, "scale": {"paddingInner": 0, "paddingOuter": 0.1}, "axis": {"labels": true, "ticks": true, "grid": true, "bandPosition": 0.5, "labelPadding": 3, "labelAngle": 0}}},
       "layer": [
        {"mark": {"type": "boxplot", "extent": 1.5, "size": 67, "outliers": false, "box": {"stroke": "#333333", "strokeWidth": 1, "fillOpacity": 0.4}, "median": {"color": "#333333", "thickness": 2}, "rule": {"color": "#4D4D4D", "strokeWidth": 1}},
         "encoding": {"y": {"field": "value", "type": "quantitative", "title": null, "scale": {"zero": false, "nice": false, "padding": 12.45}, "axis": {"tickCount": 4, "grid": true, "minExtent": 50, "maxExtent": 50}},
          "color": {"field": "site", "type": "nominal", "scale": {"domain": ["A Roàng", "Sao La", "Hồng Kim"], "range": ["#F8766D", "#00BA38", "#619CFF"]}, "legend": null}}},
        {"mark": {"type": "circle", "size": 36, "opacity": 1},
         "encoding": {"xOffset": {"field": "plot", "type": "quantitative", "scale": {"domain": [0, 22], "range": [35.7, 53.7]}},
          "y": {"field": "value", "type": "quantitative", "title": null},
          "color": {"field": "site", "type": "nominal", "legend": null}}},
        {"transform": [{"joinaggregate": [{"op": "max", "field": "value", "as": "top"}]}, {"aggregate": [{"op": "count", "as": "n"}], "groupby": ["site", "letter", "top"]}],
         "mark": {"type": "text", "fontSize": 22, "dx": 19, "dy": 12, "baseline": "middle", "color": "#000000", "font": "Liberation Sans"},
         "encoding": {"y": {"field": "top", "type": "quantitative", "title": null}, "text": {"field": "letter"}}}
       ]}
     ]}
    ]
   },
   {
    "width": 1000, "height": 26,
    "data": {"values": [{"label": "Địa điểm"}]},
    "mark": {"type": "text", "fontSize": 23, "color": "#000000", "dy": 1, "font": "Liberation Sans"},
    "encoding": {"text": {"field": "label"}}
   }
  ]
 }
],
"spacing": 0
}
